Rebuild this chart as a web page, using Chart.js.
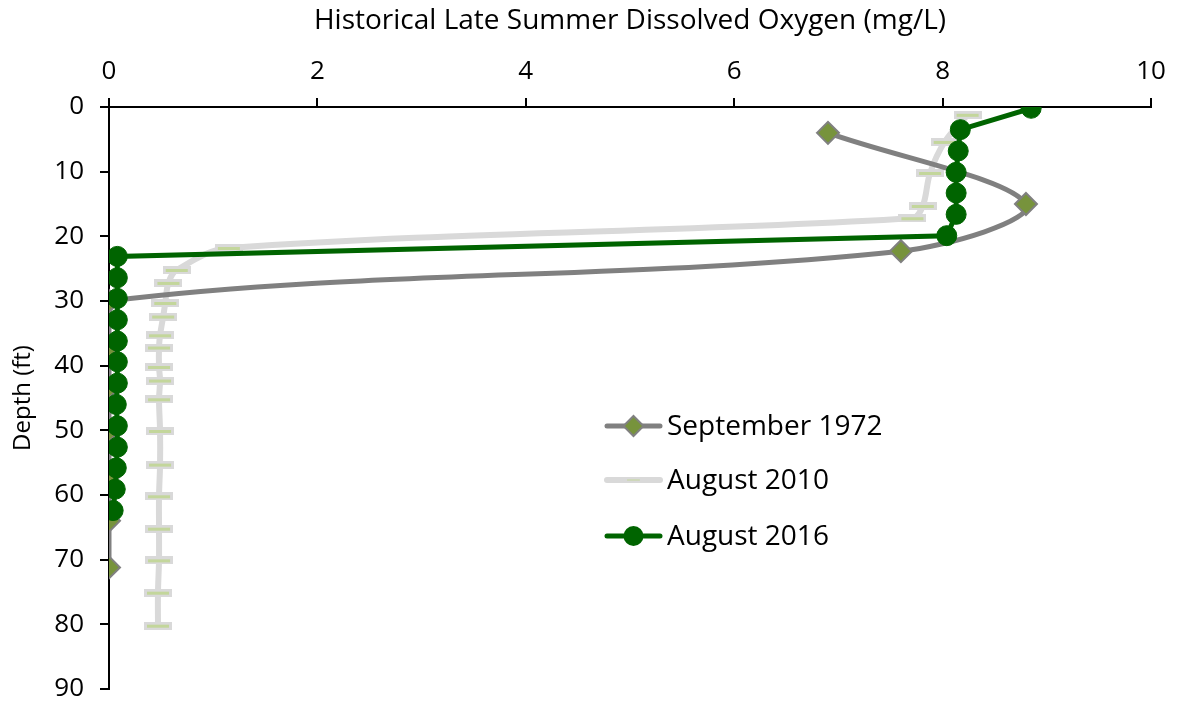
<!DOCTYPE html>
<html>
<head>
<meta charset="utf-8">
<script src="https://cdn.jsdelivr.net/npm/chart.js@4.4.1/dist/chart.umd.min.js"></script>
<style>
  html, body { margin: 0; padding: 0; background: #fff; }
</style>
</head>
<body>
<canvas id="chart" width="1177" height="702"></canvas>
<script>
// values
const sep1972Depth = [4, 15, 22.3, 30, 37.1, 43.3, 50, 57.1, 64, 71.2];
const sep1972DO = [6.9, 8.8, 7.6, 0, 0, 0, 0, 0, 0, 0];

const aug2010Depth = [1.2, 5.4, 10.2, 15.3, 17.2, 21.8, 25.2, 27.2, 30.3, 32.4, 35.3, 37.2, 40.2, 42.3, 45.2, 50.1, 55.3, 60.2, 65.2, 70.1, 75.1, 80.2];
const aug2010DO = [8.24, 8.02, 7.88, 7.81, 7.71, 1.15, 0.65, 0.57, 0.54, 0.52, 0.49, 0.48, 0.48, 0.49, 0.48, 0.49, 0.49, 0.48, 0.48, 0.48, 0.47, 0.47];

const aug2016Depth = [0.2, 3.5, 6.8, 10.1, 13.3, 16.6, 19.9, 23.1, 26.4, 29.6, 32.9, 36.2, 39.4, 42.7, 46, 49.3, 52.6, 55.8, 59.1, 62.4];
const aug2016DO = [8.85, 8.17, 8.15, 8.13, 8.13, 8.13, 8.04, 0.08, 0.08, 0.08, 0.08, 0.08, 0.08, 0.08, 0.07, 0.08, 0.08, 0.07, 0.06, 0.04];

const seriesNames = ["September 1972", "August 2010", "August 2016"];
const xTitle = "Historical Late Summer Dissolved Oxygen (mg/L)";
const yTitle = "Depth (ft)";

const FONT = "'Open Sans', sans-serif";

function pts(xs, ys) {
  return xs.map((v, i) => ({ x: v, y: ys[i] }));
}

// flat dash marker used by the 2010 series
function dashMarker(w, h) {
  const c = document.createElement("canvas");
  c.width = w; c.height = h;
  const g = c.getContext("2d");
  g.fillStyle = "#d9d9d9";
  g.fillRect(0, 0, w, h);
  g.fillStyle = "#c3d69b";
  g.fillRect(3, Math.floor(h / 2) - 1, w - 6, 3);
  return c;
}
const dash = dashMarker(28, 8);

// legend drawn inside the plot, like the original
const innerLegend = {
  id: "innerLegend",
  afterDatasetsDraw(chart) {
    const ctx = chart.ctx;
    const a = chart.chartArea;
    const x0 = a.left + 498, x1 = a.left + 551;
    const rows = [a.top + 319, a.top + 373, a.top + 429];
    ctx.save();
    ctx.font = "28px " + FONT;
    ctx.textBaseline = "middle";
    chart.data.datasets.forEach((ds, i) => {
      const y = rows[i];
      ctx.strokeStyle = ds.borderColor;
      ctx.lineWidth = ds.borderWidth;
      ctx.lineCap = "round";
      ctx.beginPath();
      ctx.moveTo(x0, y);
      ctx.lineTo(x1, y);
      ctx.stroke();
      const cx = (x0 + x1) / 2;
      if (i === 0) {
        ctx.fillStyle = ds.pointBackgroundColor;
        ctx.strokeStyle = ds.pointBorderColor;
        ctx.lineWidth = 2;
        ctx.beginPath();
        ctx.moveTo(cx, y - 10); ctx.lineTo(cx + 10, y); ctx.lineTo(cx, y + 10); ctx.lineTo(cx - 10, y);
        ctx.closePath(); ctx.fill(); ctx.stroke();
      } else if (i === 1) {
        ctx.strokeStyle = "#c3d69b";
        ctx.lineWidth = 1;
        ctx.beginPath(); ctx.moveTo(cx - 6, y); ctx.lineTo(cx + 6, y); ctx.stroke();
      } else {
        ctx.fillStyle = ds.pointBackgroundColor;
        ctx.beginPath(); ctx.arc(cx, y, 10, 0, Math.PI * 2); ctx.fill();
      }
      ctx.fillStyle = "#000";
      ctx.fillText(ds.label, x1 + 7, y + 1);
    });
    ctx.restore();
  }
};

const ctx = document.getElementById("chart").getContext("2d");
new Chart(ctx, {
  type: "line",
  data: {
    datasets: [
      {
        label: seriesNames[0],
        data: pts(sep1972DO, sep1972Depth),
        borderColor: "#808080",
        borderWidth: 5,
        tension: 0.35,
        pointStyle: "rectRot",
        pointRadius: 11,
        pointBackgroundColor: "#77933c",
        pointBorderColor: "#808080",
        pointBorderWidth: 2,
        order: 1
      },
      {
        label: seriesNames[1],
        data: pts(aug2010DO, aug2010Depth),
        borderColor: "#d9d9d9",
        borderWidth: 6,
        tension: 0.35,
        pointStyle: dash,
        pointRadius: 10,
        order: 2
      },
      {
        label: seriesNames[2],
        data: pts(aug2016DO, aug2016Depth),
        borderColor: "#006400",
        borderWidth: 5,
        tension: 0,
        pointStyle: "circle",
        pointRadius: 10,
        pointBackgroundColor: "#006400",
        pointBorderColor: "#006400",
        pointBorderWidth: 1,
        order: 0
      }
    ]
  },
  options: {
    responsive: false,
    animation: false,
    layout: { autoPadding: false, padding: { top: 0, left: 0, right: 26, bottom: 13 } },
    plugins: {
      legend: { display: false },
      tooltip: { enabled: false }
    },
    scales: {
      x: {
        type: "linear",
        position: "top",
        min: 0,
        max: 10,
        ticks: { stepSize: 2, color: "#000", font: { family: FONT, size: 26 }, padding: 11 },
        grid: { drawOnChartArea: false, drawTicks: true, tickLength: 9, color: "#000", lineWidth: 2 },
        border: { display: true, color: "#000", width: 2 },
        title: { display: true, text: xTitle, color: "#000", font: { family: FONT, size: 28 }, padding: { top: 4, bottom: 4 } },
        afterFit(scale) { scale.height = 107; }
      },
      y: {
        type: "linear",
        reverse: true,
        min: 0,
        max: 90,
        ticks: { stepSize: 10, color: "#000", font: { family: FONT, size: 26, lineHeight: 0.9 }, padding: 16 },
        grid: { drawOnChartArea: false, drawTicks: true, tickLength: 9, color: "#000", lineWidth: 2 },
        border: { display: true, color: "#000", width: 2 },
        title: { display: true, text: yTitle, color: "#000", font: { family: FONT, size: 24 }, padding: { top: 9, bottom: 4 } },
        afterFit(scale) {
          scale.width = 109;
          scale.paddingTop = 0;
          scale.paddingBottom = 0;
        }
      }
    }
  },
  plugins: [innerLegend]
});
</script>
</body>
</html>
